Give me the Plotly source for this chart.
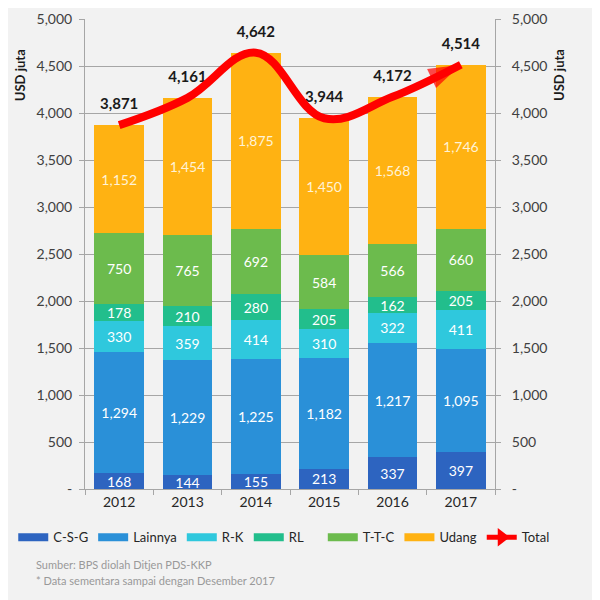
import plotly.graph_objects as go

years = ["2012", "2013", "2014", "2015", "2016", "2017"]
csg = [168, 144, 155, 213, 337, 397]
lainnya = [1294, 1229, 1225, 1182, 1217, 1095]
rk = [330, 359, 414, 310, 322, 411]
rl = [178, 210, 280, 205, 162, 205]
ttc = [750, 765, 692, 584, 566, 660]
udang = [1152, 1454, 1875, 1450, 1568, 1746]
total = [3871, 4161, 4642, 3944, 4172, 4514]

series_names = ["C-S-G", "Lainnya", "R-K", "RL", "T-T-C", "Udang"]
series_vals = [csg, lainnya, rk, rl, ttc, udang]
series_colors = ["#2D64C0", "#2A90D8", "#2FC8DD", "#22BE8C", "#6CBB4D", "#FFB212"]
text_colors = ["#FFFFFF", "#FFFFFF", "#FFFFFF", "#FFFFFF", "#FFFFFF", "#FFF3D6"]
legend_groups = ["legend", "legend", "legend", "legend", "legend2", "legend2"]

tick_vals = [0, 500, 1000, 1500, 2000, 2500, 3000, 3500, 4000, 4500, 5000]
tick_text = ["-", "500", "1,000", "1,500", "2,000", "2,500", "3,000", "3,500", "4,000", "4,500", "5,000"]

FONT = "Lato"

fig = go.Figure()

for name, vals, col, tcol in zip(series_names, series_vals, series_colors, text_colors):
    fig.add_trace(go.Bar(
        x=years, y=vals, name=name, marker=dict(color=col, line=dict(width=0)),
        text=[f"{v:,}" for v in vals], textposition="inside", insidetextanchor="middle",
        textangle=0, constraintext="none",
        textfont=dict(family=FONT, size=14, color=tcol),
        showlegend=False, hoverinfo="skip",
    ))

# total line with arrow head (on the right axis, same scale)
fig.add_trace(go.Scatter(
    x=years, y=total, mode="lines+markers", yaxis="y2",
    line=dict(color="#FF0000", width=8, shape="spline", smoothing=1.1),
    marker=dict(symbol="arrow", angleref="previous",
                size=[0, 0, 0, 0, 0, 34], color="#FF0000", line=dict(width=0)),
    showlegend=False, hoverinfo="skip",
))

# total labels above bars
fig.add_trace(go.Scatter(
    x=years, y=total, mode="markers+text", text=[f"<b>{t:,}</b>" for t in total],
    textposition="top center", marker=dict(size=18, opacity=0),
    textfont=dict(family=FONT, size=15, color="#1A1A1A"),
    showlegend=False, hoverinfo="skip",
))

# legend entries
for name, col, lg in zip(series_names, series_colors, legend_groups):
    fig.add_trace(go.Scatter(x=[years[0]], y=[None], mode="lines", name=name, legend=lg,
                             line=dict(color=col, width=8), hoverinfo="skip"))
fig.add_trace(go.Scatter(x=[years[0]], y=[None], mode="lines+markers", name="Total", legend="legend2",
                         line=dict(color="#FF0000", width=5),
                         marker=dict(symbol="triangle-right", size=16, color="#FF0000"),
                         hoverinfo="skip"))

fig.add_annotation(x=-0.183, y=0.94, xref="paper", yref="paper", text="<b>USD juta</b>",
                   textangle=-90, showarrow=False, font=dict(family=FONT, size=13, color="#1A1A1A"))
fig.add_annotation(x=1.18, y=0.94, xref="paper", yref="paper", text="<b>USD juta</b>",
                   textangle=-90, showarrow=False, font=dict(family=FONT, size=13, color="#1A1A1A"))
fig.add_annotation(x=-0.125, y=-0.178, xref="paper", yref="paper", xanchor="left",
                   text="Sumber: BPS diolah Ditjen PDS-KKP", showarrow=False,
                   font=dict(family=FONT, size=11, color="#999999"))
fig.add_annotation(x=-0.125, y=-0.212, xref="paper", yref="paper", xanchor="left",
                   text="* Data sementara sampai dengan Desember 2017", showarrow=False,
                   font=dict(family=FONT, size=11, color="#999999"))

fig.add_shape(type="rect", xref="paper", yref="paper", x0=-0.2, x1=1.239, y0=-0.27, y1=1.034,
              fillcolor="#F2F2F2", line=dict(width=0), layer="below")

axis_common = dict(range=[0, 5000], tickvals=tick_vals, ticktext=tick_text,
                   showgrid=True, gridcolor="#A6A6A6", gridwidth=1,
                   showline=True, linecolor="#A6A6A6", linewidth=1,
                   ticks="outside", ticklen=5, tickcolor="#A6A6A6",
                   tickfont=dict(family=FONT, size=14, color="#404040"), zeroline=False)

legend_common = dict(orientation="h", yanchor="middle", y=-0.103, xanchor="left",
                     font=dict(family=FONT, size=13, color="#262626"), itemwidth=30,
                     bgcolor="rgba(0,0,0,0)", traceorder="normal")

fig.update_layout(
    width=600, height=600,
    margin=dict(l=77, r=113, t=11, b=119, autoexpand=False),
    paper_bgcolor="#FFFFFF", plot_bgcolor="rgba(0,0,0,0)",
    barmode="stack", bargap=0.27,
    xaxis=dict(type="category", categoryorder="array", categoryarray=years,
               range=[-0.5, len(years) - 0.5],
               showline=True, linecolor="#A6A6A6", ticks="outside", tickson="boundaries",
               ticklen=5, tickcolor="#A6A6A6", showgrid=False,
               tickfont=dict(family=FONT, size=14, color="#262626")),
    yaxis=dict(**axis_common, ticklabelstandoff=4),
    yaxis2=dict(**axis_common, overlaying="y", side="right", ticklabelstandoff=8),
    legend=dict(**legend_common, x=-0.175),
    legend2=dict(**legend_common, x=0.58),
    font=dict(family=FONT),
)

fig.write_html("out.html")
